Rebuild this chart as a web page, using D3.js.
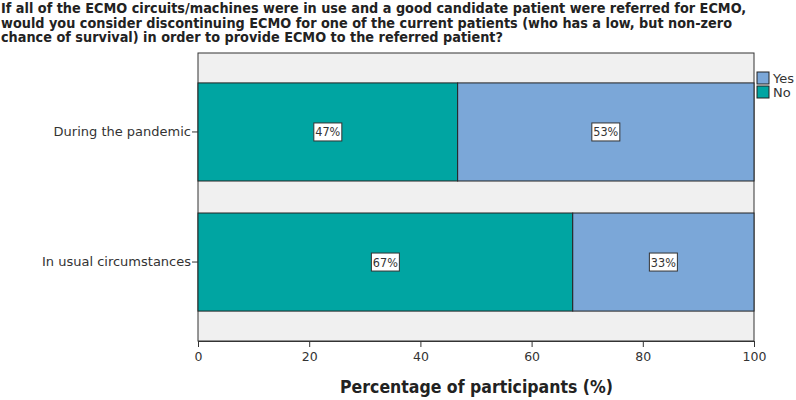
<!DOCTYPE html>
<html>
<head>
<meta charset="utf-8">
<script src="https://cdn.jsdelivr.net/npm/d3@7"></script>
<style>
body { margin: 0; background: #fff; }
text { font-family: "DejaVu Sans Condensed", "DejaVu Sans", sans-serif; }
</style>
</head>
<body>
<script>
var titleLines = [
	"If all of the ECMO circuits/machines were in use and a good candidate patient were referred for ECMO,",
	"would you consider discontinuing ECMO for one of the current patients (who has a low, but non-zero",
	"chance of survival) in order to provide ECMO to the referred patient?"
];
var categories = ["During the pandemic", "In usual circumstances"];
var noValues = [46.7, 67.4];
var yesValues = [53.3, 32.6];
var seriesNames = ["Yes", "No"];
var xTicks = [0, 20, 40, 60, 80, 100];

var w = 796, h = 400;
var pLeft = 198, pRight = 754, pTop = 53, pBottom = 341;
var colors = { "Yes": "#7ba7d8", "No": "#00a5a2" };
var plainFont = "'DejaVu Sans', sans-serif";

var svg = d3.select("body").append("svg")
	.attr("width", w)
	.attr("height", h);

// title
svg.append("text")
	.attr("font-weight", "bold")
	.attr("font-size", 14.3)
	.attr("fill", "#222")
	.selectAll("tspan")
	.data(titleLines)
	.enter()
	.append("tspan")
	.attr("x", 1)
	.attr("y", function(d, i) { return 13 + i * 14.5; })
	.text(function(d) { return d; });

var x = d3.scaleLinear().domain([0, 100]).range([pLeft, pRight]);
var y = d3.scaleBand().domain(categories).range([pTop, pBottom])
	.paddingInner(0.246).paddingOuter(0.23);

// plot background
svg.append("rect")
	.attr("x", pLeft).attr("y", pTop)
	.attr("width", pRight - pLeft).attr("height", pBottom - pTop)
	.attr("fill", "#f0f0f0")
	.attr("stroke", "#333").attr("stroke-width", 1);

var rows = categories.map(function(c, i) {
	return { cat: c, no: noValues[i], yes: yesValues[i] };
});

var g = svg.append("g");
rows.forEach(function(r) {
	var segs = [
		{ name: "No", x0: 0, x1: r.no, v: r.no },
		{ name: "Yes", x0: r.no, x1: r.no + r.yes, v: r.yes }
	];
	segs.forEach(function(s) {
		g.append("rect")
			.attr("x", x(s.x0))
			.attr("y", y(r.cat))
			.attr("width", x(s.x1) - x(s.x0))
			.attr("height", y.bandwidth())
			.attr("fill", colors[s.name])
			.attr("stroke", "#222")
			.attr("stroke-width", 1);
		var cx = (x(s.x0) + x(s.x1)) / 2;
		var cy = y(r.cat) + y.bandwidth() / 2;
		g.append("rect")
			.attr("x", cx - 14).attr("y", cy - 9)
			.attr("width", 28).attr("height", 18)
			.attr("fill", "#fff")
			.attr("stroke", "#333").attr("stroke-width", 1);
		g.append("text")
			.attr("x", cx).attr("y", cy + 4.5)
			.attr("text-anchor", "middle")
			.attr("font-size", 12.5)
			.attr("fill", "#333")
			.text(Math.round(s.v) + "%");
	});
});

// x axis
var xAxis = svg.append("g")
	.attr("transform", "translate(0," + pBottom + ")")
	.call(d3.axisBottom(x).tickValues(xTicks).tickSize(6).tickPadding(5));
xAxis.select(".domain").attr("stroke", "#333");
xAxis.selectAll(".tick line").attr("stroke", "#333");
xAxis.selectAll("text")
	.style("font-family", plainFont)
	.attr("font-size", 12.5).attr("fill", "#333");

svg.append("text")
	.attr("x", (pLeft + pRight) / 2 + 0.5)
	.attr("y", 393)
	.attr("text-anchor", "middle")
	.attr("font-weight", "bold")
	.attr("font-size", 17.5)
	.attr("fill", "#222")
	.text("Percentage of participants (%)");

// y axis
var yAxis = svg.append("g")
	.attr("transform", "translate(" + pLeft + ",0)")
	.call(d3.axisLeft(y).tickSize(6).tickPadding(1));
yAxis.select(".domain").remove();
yAxis.selectAll(".tick line").attr("stroke", "#333");
yAxis.selectAll("text")
	.style("font-family", plainFont)
	.attr("font-size", 13).attr("fill", "#333");

// legend
var legend = svg.append("g").attr("transform", "translate(757,72)");
seriesNames.forEach(function(n, i) {
	legend.append("rect")
		.attr("x", 0).attr("y", i * 14)
		.attr("width", 12).attr("height", 12)
		.attr("fill", colors[n])
		.attr("stroke", "#222");
	legend.append("text")
		.attr("x", 16).attr("y", i * 14 + 11)
		.style("font-family", plainFont)
		.attr("font-size", 13).attr("fill", "#333")
		.text(n);
});
</script>
</body>
</html>
